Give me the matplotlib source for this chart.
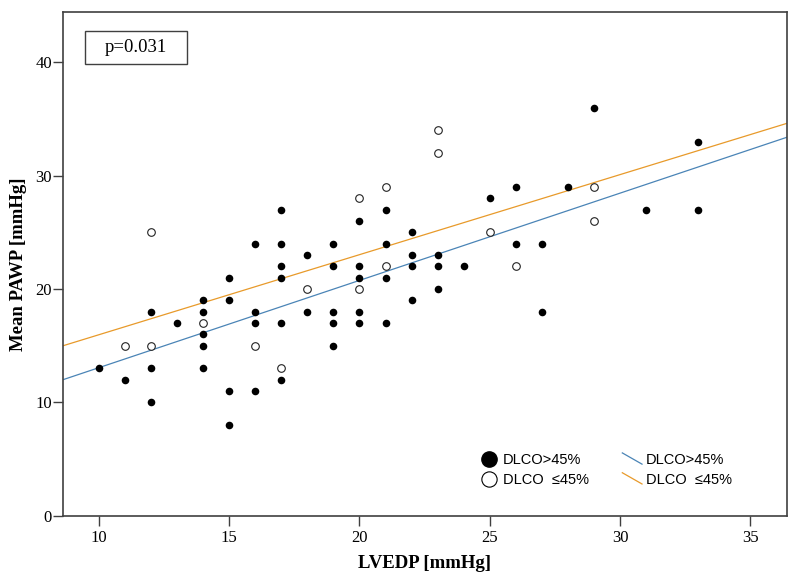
import matplotlib
matplotlib.use("Agg")
import matplotlib.pyplot as plt
from matplotlib.lines import Line2D
from matplotlib.patches import Rectangle
from matplotlib.legend_handler import HandlerLine2D
import numpy as np

# DLCO > 45% (filled)
hi_x = [10, 11, 12, 12, 12, 13, 14, 14, 14, 14, 14, 15, 15, 15, 15,
        16, 16, 16, 16, 17, 17, 17, 17, 17, 17, 18, 18,
        19, 19, 19, 19, 19, 20, 20, 20, 20, 20, 21, 21, 21, 21,
        22, 22, 22, 22, 23, 23, 23, 24, 25, 26, 26, 27, 27, 28, 29, 31, 33, 33]
hi_y = [13, 12, 18, 13, 10, 17, 19, 18, 16, 15, 13, 21, 19, 11, 8,
        24, 18, 17, 11, 27, 24, 22, 21, 17, 12, 23, 18,
        24, 22, 18, 17, 15, 26, 22, 21, 18, 17, 27, 24, 21, 17,
        25, 23, 22, 19, 23, 22, 20, 22, 28, 29, 24, 24, 18, 29, 36, 27, 33, 27]

# DLCO <= 45% (open)
lo_x = [11, 12, 12, 14, 16, 17, 18, 20, 20, 21, 21, 23, 23, 25, 26, 29, 29]
lo_y = [15, 25, 15, 17, 15, 13, 20, 28, 20, 29, 22, 34, 32, 25, 22, 29, 26]

# fit lines (intercept, slope)
hi_fit = (5.36, 0.7695)
lo_fit = (8.90, 0.706)
p_text = "p=0.031"

blue = "#4a84b6"
orange = "#e89a2a"
spine_col = "#404040"


class DiagHandler(HandlerLine2D):
    # short diagonal line like in the SPSS legend
    def create_artists(self, legend, orig_handle, xdescent, ydescent,
                       width, height, fontsize, trans):
        ln = Line2D([-xdescent, width - xdescent],
                    [height * 1.1 - ydescent, 0.0 * height - ydescent],
                    color=orig_handle.get_color(),
                    linewidth=orig_handle.get_linewidth())
        ln.set_transform(trans)
        return [ln]


fig = plt.figure(figsize=(8, 5.84), dpi=100)
ax = fig.add_axes([0.07875, 0.117, 0.905, 0.862])

xlim = (8.62, 36.41)
ax.set_xlim(*xlim)
ax.set_ylim(0, 44.4)

xs = np.array(xlim)
ax.plot(xs, lo_fit[0] + lo_fit[1] * xs, color=orange, lw=0.9, zorder=2)
ax.plot(xs, hi_fit[0] + hi_fit[1] * xs, color=blue, lw=0.9, zorder=2)

ax.scatter(hi_x, hi_y, s=30, color="black", zorder=3, linewidths=0)
ax.scatter(lo_x, lo_y, s=30, facecolor="white", edgecolor="#222222",
           linewidths=0.8, zorder=3)

for sp in ax.spines.values():
    sp.set_color(spine_col)
    sp.set_linewidth(1.2)

ax.set_xticks([10, 15, 20, 25, 30, 35])
ax.set_yticks([0, 10, 20, 30, 40])
ax.tick_params(direction="out", length=7, width=1.0, color=spine_col,
               labelsize=12, pad=1)
for lab in ax.get_xticklabels() + ax.get_yticklabels():
    lab.set_family("Liberation Serif")
ax.tick_params(axis="x", pad=3)

ax.set_xlabel("LVEDP [mmHg]", family="Liberation Serif", fontweight="bold",
              fontsize=13.5, labelpad=7)
ax.set_ylabel("Mean PAWP [mmHg]", family="Liberation Serif", fontweight="bold",
              fontsize=13.5, labelpad=6)

# p-value box
ax.add_patch(Rectangle((0.1008 - 0.0705, 0.9297 - 0.0331), 0.141, 0.0662,
                       transform=ax.transAxes, facecolor="white",
                       edgecolor=spine_col, linewidth=1.0, zorder=4))
ax.text(0.1008, 0.9297, p_text, transform=ax.transAxes, ha="center", va="center",
        family="Liberation Serif", fontsize=13.5, zorder=5)

h1 = Line2D([], [], marker="o", linestyle="none", markersize=11,
            markerfacecolor="black", markeredgecolor="black")
h2 = Line2D([], [], marker="o", linestyle="none", markersize=11,
            markerfacecolor="white", markeredgecolor="black", markeredgewidth=0.8)
h3 = Line2D([], [], color=blue, lw=0.9)
h4 = Line2D([], [], color=orange, lw=0.9)
leg = ax.legend([h1, h2, h3, h4],
                ["DLCO>45%", "DLCO  \u226445%", "DLCO>45%", "DLCO  \u226445%"],
                ncol=2, loc="lower left", bbox_to_anchor=(0.5746, 0.057),
                frameon=False, borderpad=0, borderaxespad=0,
                handlelength=1.35, handletextpad=0.28, columnspacing=2.3,
                labelspacing=0.4,
                prop={"family": "Liberation Sans", "size": 10.5},
                handler_map={h3: DiagHandler(), h4: DiagHandler()})

fig.savefig("out.png", dpi=100)
